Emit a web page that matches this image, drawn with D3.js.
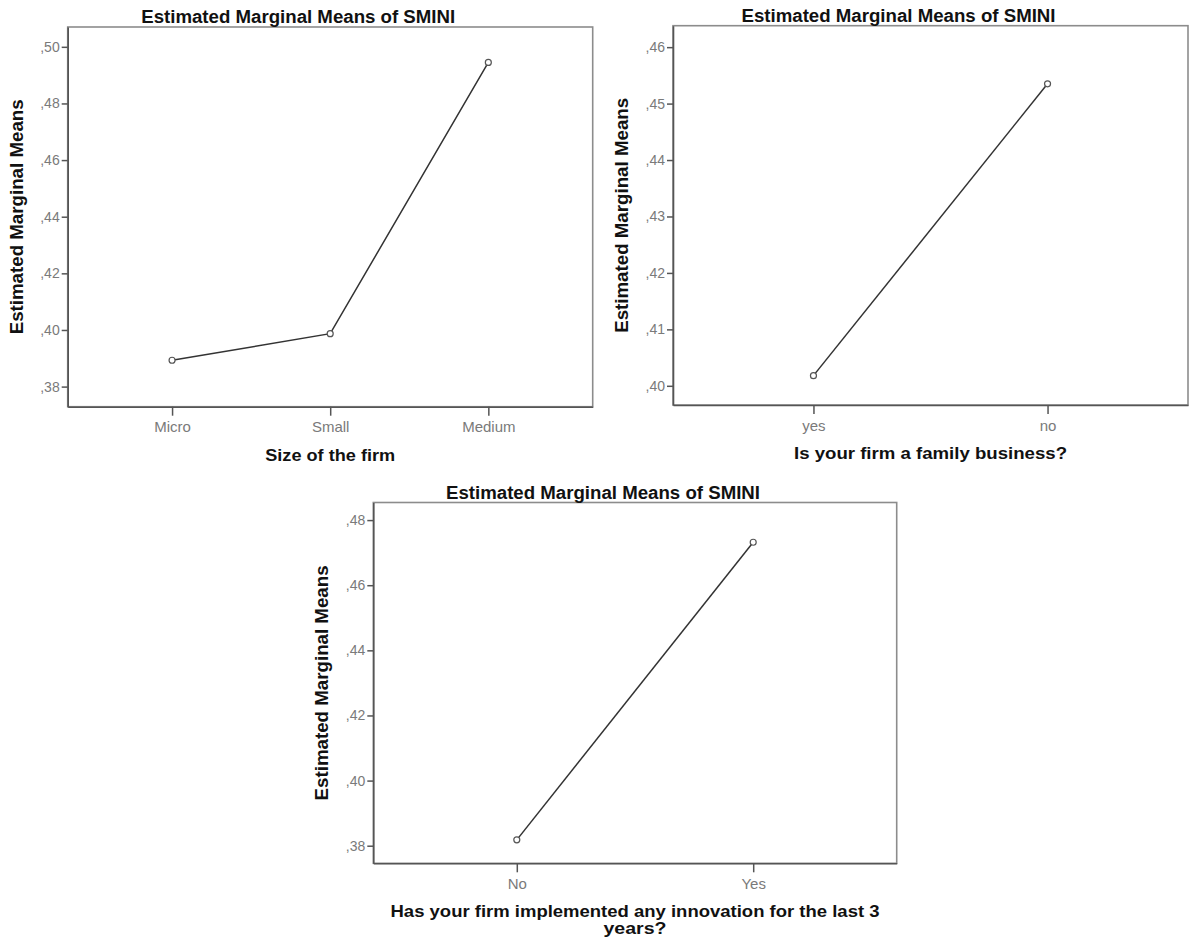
<!DOCTYPE html>
<html><head><meta charset="utf-8">
<script src="https://cdn.jsdelivr.net/npm/d3@7"></script>
<style>body{margin:0;background:#fff}svg{display:block}text{font-family:"Liberation Sans",Arial,sans-serif}</style>
</head><body><svg id="c" width="1192" height="939"></svg>
<script>
const chartTitle = "Estimated Marginal Means of SMINI";
const yAxisTitle = "Estimated Marginal Means";

const sizeCategories = ["Micro", "Small", "Medium"];
const sizeMeans = [0.3893, 0.3987, 0.4945];
const sizeTicks = [0.38, 0.40, 0.42, 0.44, 0.46, 0.48, 0.50];
const sizeDomain = [0.3729, 0.5070];
const sizeXTitle = ["Size of the firm"];

const familyCategories = ["yes", "no"];
const familyMeans = [0.4018, 0.4535];
const familyTicks = [0.40, 0.41, 0.42, 0.43, 0.44, 0.45, 0.46];
const familyDomain = [0.3966, 0.4638];
const familyXTitle = ["Is your firm a family business?"];

const innovationCategories = ["No", "Yes"];
const innovationMeans = [0.3818, 0.4732];
const innovationTicks = [0.38, 0.40, 0.42, 0.44, 0.46, 0.48];
const innovationDomain = [0.3746, 0.4854];
const innovationXTitle = ["Has your firm implemented any innovation for the last 3", "years?"];

const svg = d3.select("#c");
const fmt = v => d3.format(".2f")(v).replace(/^0\./, ",");

function panel(o) {
  const g = svg.append("g");
  const x = d3.scalePoint().domain(o.cats).range([o.l, o.r]).padding(o.pad);
  const y = d3.scaleLinear().domain(o.dom).range([o.b, o.t]);

  g.append("rect")
    .attr("x", o.l).attr("y", o.t)
    .attr("width", o.r - o.l).attr("height", o.b - o.t)
    .attr("fill", "none").attr("stroke", "#8c8c8c").attr("stroke-width", 1.6);

  const ya = g.append("g").attr("transform", `translate(${o.l},0)`)
    .call(d3.axisLeft(y).tickValues(o.ticks).tickFormat(fmt).tickSize(6).tickSizeOuter(0).tickPadding(2));
  ya.attr("font-size", null).attr("font-family", null);
  ya.select(".domain").attr("stroke", "#555").attr("stroke-width", 1.6);
  ya.selectAll(".tick line").attr("stroke", "#555").attr("stroke-width", 1.5);
  ya.selectAll(".tick text").attr("fill", "#7a7a7a").style("font-size", "14px");

  const xa = g.append("g").attr("transform", `translate(0,${o.b})`)
    .call(d3.axisBottom(x).tickSize(9).tickSizeOuter(0).tickPadding(6));
  xa.attr("font-size", null).attr("font-family", null);
  xa.select(".domain").attr("stroke", "#555").attr("stroke-width", 1.6);
  xa.selectAll(".tick line").attr("stroke", "#555").attr("stroke-width", 1.5);
  xa.selectAll(".tick text").attr("fill", "#7a7a7a").style("font-size", "15px");

  const pts = o.cats.map((c, i) => [c, o.vals[i]]);
  g.append("path").datum(pts)
    .attr("fill", "none").attr("stroke", "#333").attr("stroke-width", 1.5)
    .attr("d", d3.line().x(d => x(d[0])).y(d => y(d[1])));
  g.selectAll("circle.pt").data(pts).join("circle").attr("class", "pt")
    .attr("cx", d => x(d[0])).attr("cy", d => y(d[1])).attr("r", 3)
    .attr("fill", "#fff").attr("stroke", "#555").attr("stroke-width", 1.2);

  const cx = (o.l + o.r) / 2;
  g.append("text").text(chartTitle)
    .attr("x", cx - 32).attr("y", o.t - 4)
    .attr("text-anchor", "middle").attr("font-weight", "bold").attr("fill", "#111")
    .style("font-size", "18px")
    .attr("textLength", 314).attr("lengthAdjust", "spacingAndGlyphs");

  g.append("text").text(yAxisTitle)
    .attr("transform", `translate(${o.l - 51},${(o.t + o.b) / 2}) rotate(-90)`)
    .attr("text-anchor", "middle").attr("dominant-baseline", "central")
    .attr("font-weight", "bold").attr("fill", "#111")
    .style("font-size", "18px")
    .attr("textLength", 235).attr("lengthAdjust", "spacingAndGlyphs");

  o.xTitle.forEach((line, i) => {
    g.append("text").text(line)
      .attr("x", cx).attr("y", o.b + 54 + i * 16.5)
      .attr("text-anchor", "middle").attr("font-weight", "bold").attr("fill", "#111")
      .style("font-size", o.xTitle.length > 1 ? "16px" : "17px")
      .attr("textLength", o.xLen[i]).attr("lengthAdjust", "spacingAndGlyphs");
  });
}

panel({cats: sizeCategories, vals: sizeMeans, ticks: sizeTicks, dom: sizeDomain, xTitle: sizeXTitle,
  xLen: [130], l: 67.7, t: 27, r: 592.7, b: 406.7, pad: 0.66});
panel({cats: familyCategories, vals: familyMeans, ticks: familyTicks, dom: familyDomain, xTitle: familyXTitle,
  xLen: [273], l: 673, t: 25.7, r: 1188, b: 405, pad: 0.6});
panel({cats: innovationCategories, vals: innovationMeans, ticks: innovationTicks, dom: innovationDomain, xTitle: innovationXTitle,
  xLen: [489, 63], l: 373.3, t: 502.5, r: 896.7, b: 863.3, pad: 0.607});
</script>
</body></html>
